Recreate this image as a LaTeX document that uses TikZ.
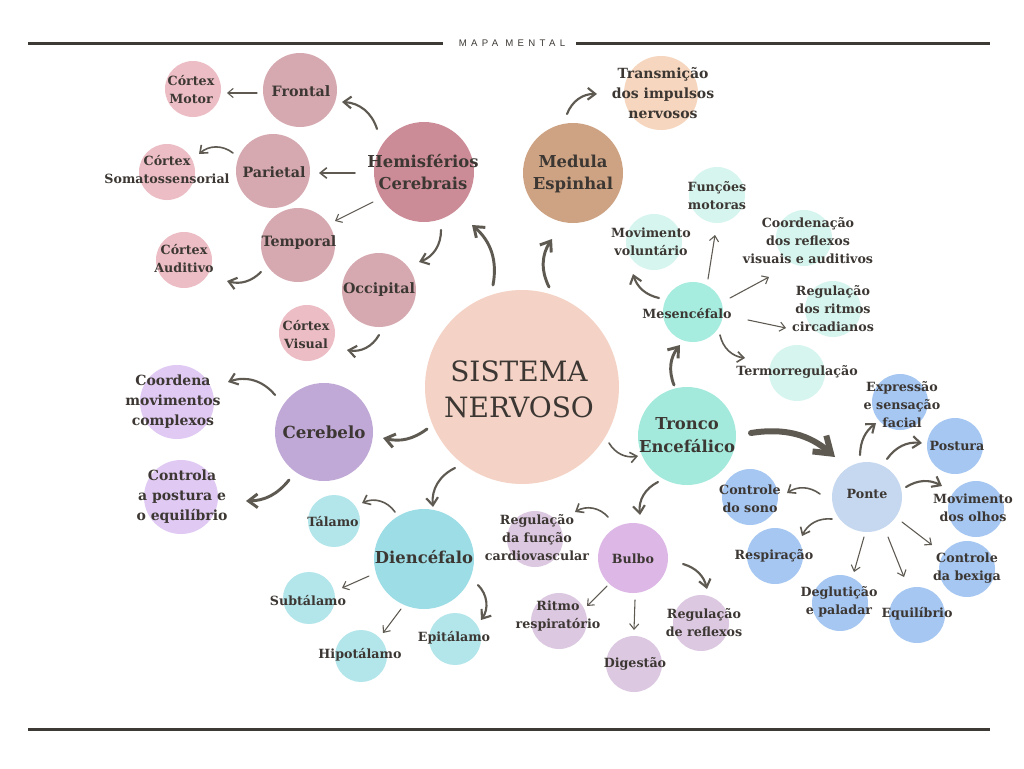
\documentclass[tikz,border=0pt]{standalone}
\usepackage{fontspec}
\setmainfont{DejaVu Serif}
\newfontfamily\capsfont[LetterSpace=45]{Liberation Sans}
\usetikzlibrary{arrows.meta,calc}
\definecolor{lc}{HTML}{3D3935}
\definecolor{ac}{HTML}{5E5A52}
\definecolor{tc}{HTML}{3C3733}
\definecolor{cSN}{HTML}{F4D3C6}
\definecolor{cHem}{HTML}{CC8C97}
\definecolor{cLob}{HTML}{D6A9B0}
\definecolor{cCtx}{HTML}{ECBDC4}
\definecolor{cMed}{HTML}{CDA384}
\definecolor{cTra}{HTML}{F6D6BE}
\definecolor{cCer}{HTML}{C1A9D7}
\definecolor{cCerK}{HTML}{E0CAF3}
\definecolor{cDie}{HTML}{9CDDE6}
\definecolor{cDieK}{HTML}{B3E6EB}
\definecolor{cTro}{HTML}{A4EADC}
\definecolor{cMes}{HTML}{A6EDE0}
\definecolor{cMesK}{HTML}{D7F5EF}
\definecolor{cPon}{HTML}{C5D8F0}
\definecolor{cPonK}{HTML}{A6C7F2}
\definecolor{cBul}{HTML}{DDB7E6}
\definecolor{cBulK}{HTML}{DCC9E1}
\begin{document}
\begin{tikzpicture}[x=0.75pt,y=0.75pt,
  bub/.style={circle,inner sep=0pt,draw=none,minimum size=1.5pt*#1},
  tx/.style={text=tc,align=center,inner sep=0pt},
  ts/.style={tx,font=\bfseries\fontsize{9.5}{13.5}\selectfont},
  tsl/.style={tx,font=\bfseries\fontsize{10.5}{15}\selectfont},
  tm/.style={tx,font=\bfseries\fontsize{10.7}{14}\selectfont},
  tl/.style={tx,font=\bfseries\fontsize{12.3}{17}\selectfont},
  tlb/.style={tx,font=\bfseries\fontsize{12.5}{16}\selectfont},
  tt/.style={tx,font=\fontsize{21}{27}\selectfont},
  ar/.style={draw=ac,line cap=round,line join=round,-{Straight Barb[length=2.5pt 2,width=5pt 2.4]}},
  a1/.style={ar,line width=0.8pt},
  a2/.style={ar,line width=1.2pt},
  a3/.style={ar,line width=1.6pt},
  a4/.style={ar,line width=2.2pt},
  a5/.style={ar,line width=4.5pt},
]
\useasboundingbox (0,0) rectangle (1024,-768);
\fill[white] (0,0) rectangle (1024,-768);
% header and footer
\node[text=lc,inner sep=0pt,font=\capsfont\fontsize{7.2}{8}\selectfont] (title) at (512,-43) {MAPA MENTAL};
\coordinate (hl1) at (28,-43);
\coordinate (hl2) at (443,-43);
\coordinate (hr1) at (576,-43);
\coordinate (hr2) at (990,-43);
\coordinate (f1) at (28,-729.5);
\coordinate (f2) at (990,-729.5);
\draw[lc,line width=2.25pt] (hl1) -- (hl2) (hr1) -- (hr2);
\draw[lc,line width=2.25pt] (f1) -- (f2);
% circles
\node[bub=97,fill=cSN] (sn) at (522,-387) {};
\node[bub=50,fill=cHem] (hem) at (424,-172) {};
\node[bub=37,fill=cLob] (fro) at (300,-90) {};
\node[bub=28,fill=cCtx] (cmo) at (193,-89) {};
\node[bub=37,fill=cLob] (par) at (273,-171) {};
\node[bub=28,fill=cCtx] (cso) at (167,-172) {};
\node[bub=37,fill=cLob] (tem) at (298,-245) {};
\node[bub=28,fill=cCtx] (cau) at (184,-260) {};
\node[bub=37,fill=cLob] (occ) at (379,-290) {};
\node[bub=28,fill=cCtx] (cvi) at (307,-333) {};
\node[bub=49,fill=cCer] (cer) at (324,-432) {};
\node[bub=37,fill=cCerK] (coo) at (177,-402) {};
\node[bub=37,fill=cCerK] (con) at (181,-497) {};
\node[bub=50,fill=cMed] (med) at (573,-173) {};
\node[bub=37,fill=cTra] (tra) at (661,-93) {};
\node[bub=49,fill=cTro] (tro) at (687,-436) {};
\node[bub=30,fill=cMes] (mes) at (693,-312) {};
\node[bub=28,fill=cMesK] (fmo) at (717,-195) {};
\node[bub=28,fill=cMesK] (mvo) at (654,-242) {};
\node[bub=28,fill=cMesK] (cre) at (804,-238) {};
\node[bub=28,fill=cMesK] (rci) at (833,-309) {};
\node[bub=28,fill=cMesK] (ter) at (797,-373) {};
\node[bub=35,fill=cPon] (pon) at (867,-497) {};
\node[bub=28,fill=cPonK] (exp) at (900,-402) {};
\node[bub=28,fill=cPonK] (pos) at (955,-446) {};
\node[bub=28,fill=cPonK] (mol) at (976,-509) {};
\node[bub=28,fill=cPonK] (cbx) at (967,-569) {};
\node[bub=28,fill=cPonK] (equ) at (917,-615) {};
\node[bub=28,fill=cPonK] (deg) at (840,-603) {};
\node[bub=28,fill=cPonK] (res) at (775,-556) {};
\node[bub=28,fill=cPonK] (csn) at (750,-497) {};
\node[bub=35,fill=cBul] (bul) at (633,-558) {};
\node[bub=28,fill=cBulK] (rcv) at (535,-539) {};
\node[bub=28,fill=cBulK] (rre) at (559,-621) {};
\node[bub=28,fill=cBulK] (dig) at (634,-664) {};
\node[bub=28,fill=cBulK] (rrf) at (701,-623) {};
\node[bub=50,fill=cDie] (die) at (424,-559) {};
\node[bub=26,fill=cDieK] (tal) at (334,-521) {};
\node[bub=26,fill=cDieK] (sub) at (309,-598) {};
\node[bub=26,fill=cDieK] (hip) at (361,-656) {};
\node[bub=26,fill=cDieK] (epi) at (455,-639) {};
% texts
\node[tt] (sn-t) at (519,-389) {SISTEMA\\NERVOSO};
\node[tl] (hem-t) at (423,-172) {Hemisférios\\Cerebrais};
\node[tm] (fro-t) at (301,-91) {Frontal};
\node[ts] (cmo-t) at (191,-90) {Córtex\\Motor};
\node[tm] (par-t) at (274,-172) {Parietal};
\node[ts] (cso-t) at (167,-170) {Córtex\\Somatossensorial};
\node[tm] (tem-t) at (299,-243) {Temporal};
\node[ts] (cau-t) at (184,-259) {Córtex\\Auditivo};
\node[tm] (occ-t) at (379,-290) {Occipital};
\node[ts] (cvi-t) at (306,-335) {Córtex\\Visual};
\node[tlb] (cer-t) at (324,-432) {Cerebelo};
\node[tsl] (coo-t) at (173,-402) {Coordena\\movimentos\\complexos};
\node[tsl] (con-t) at (182,-497) {Controla\\a postura e\\o equilíbrio};
\node[tl] (med-t) at (573,-174) {Medula\\Espinhal};
\node[tsl] (tra-t) at (663,-93) {Transmição\\dos impulsos\\nervosos};
\node[tl] (tro-t) at (687,-435) {Tronco\\Encefálico};
\node[ts] (mes-t) at (687,-314) {Mesencéfalo};
\node[ts] (fmo-t) at (717,-196) {Funções\\motoras};
\node[ts] (mvo-t) at (651,-242) {Movimento\\voluntário};
\node[ts] (cre-t) at (808,-241) {Coordenação\\dos reflexos\\visuais e auditivos};
\node[ts] (rci-t) at (833,-309) {Regulação\\dos ritmos\\circadianos};
\node[ts] (ter-t) at (797,-372) {Termorregulação};
\node[ts] (pon-t) at (867,-494) {Ponte};
\node[ts] (exp-t) at (902,-405) {Expressão\\e sensação\\facial};
\node[ts] (pos-t) at (957,-446) {Postura};
\node[ts] (mol-t) at (973,-508) {Movimento\\dos olhos};
\node[ts] (cbx-t) at (967,-568) {Controle\\da bexiga};
\node[ts] (equ-t) at (917,-614) {Equilíbrio};
\node[ts] (deg-t) at (839,-602) {Deglutição\\e paladar};
\node[ts] (res-t) at (774,-556) {Respiração};
\node[ts] (csn-t) at (750,-499) {Controle\\do sono};
\node[ts] (bul-t) at (633,-559) {Bulbo};
\node[ts] (rcv-t) at (537,-538) {Regulação\\da função\\cardiovascular};
\node[ts] (rre-t) at (558,-616) {Ritmo\\respiratório};
\node[ts] (dig-t) at (635,-664) {Digestão};
\node[ts] (rrf-t) at (704,-623) {Regulação\\de reflexos};
\node[tl] (die-t) at (424,-557) {Diencéfalo};
\node[ts] (tal-t) at (333,-522) {Tálamo};
\node[ts] (sub-t) at (308,-601) {Subtálamo};
\node[ts] (hip-t) at (360,-655) {Hipotálamo};
\node[ts] (epi-t) at (454,-638) {Epitálamo};
% connectors
\draw[a3] ($(hem)+(-47,43)$) to[bend right=35] ($(fro)+(42,-12)$);
\draw[a2] ($(hem)+(-69,-1)$) -- ($(par)+(46,-2)$);
\draw[a1] ($(hem)+(-51,-30)$) -- ($(tem)+(37,24)$);
\draw[a3] ($(hem)+(17,-58)$) to[bend left=35] ($(occ)+(40,28)$);
\draw[a4] ($(sn)+(-29,102)$) to[bend right=30] ($(hem)+(48,-53)$);
\draw[a1] ($(fro)+(-43,-3)$) -- ($(cmo)+(34,-4)$);
\draw[a2] ($(par)+(-40,18)$) to[bend right=40] ($(cso)+(32,18)$);
\draw[a3] ($(tem)+(-37,-27)$) to[bend left=30] ($(cau)+(43,-21)$);
\draw[a3] ($(occ)+(0,-45)$) to[bend left=35] ($(cvi)+(40,-17)$);
\draw[a4] ($(sn)+(-95,-42)$) to[bend left=25] ($(cer)+(59,-6)$);
\draw[a3] ($(cer)+(-49,37)$) to[bend right=35] ($(coo)+(51,20)$);
\draw[a4] ($(cer)+(-35,-48)$) to[bend left=25] ($(con)+(65,-4)$);
\draw[a3] ($(sn)+(-67,-81)$) to[bend right=35] ($(die)+(9,52)$);
\draw[a2] ($(die)+(-29,47)$) to[bend right=40] ($(tal)+(28,18)$);
\draw[a1] ($(die)+(-55,-17)$) -- ($(sub)+(33,10)$);
\draw[a1] ($(die)+(-23,-50)$) -- ($(hip)+(22,23)$);
\draw[a3] ($(die)+(54,-26)$) to[bend left=40] ($(epi)+(26,19)$);
\draw[a4] ($(sn)+(27,100)$) to[bend left=30] ($(med)+(-21,-66)$);
\draw[a3] ($(med)+(-6,59)$) to[bend left=35] ($(tra)+(-64,-1)$);
\draw[a2] ($(sn)+(87,-56)$) to[bend right=35] ($(tro)+(-49,-20)$);
\draw[a4] ($(tro)+(-13,51)$) to[bend left=30] ($(mes)+(-13,-33)$);
\draw[a3] ($(mes)+(-34,14)$) to[bend left=30] ($(mvo)+(-21,-32)$);
\draw[a1] ($(mes)+(15,33)$) -- ($(fmo)+(-2,-40)$);
\draw[a1] ($(mes)+(37,14)$) -- ($(cre)+(-35,-39)$);
\draw[a1] ($(mes)+(55,-8)$) -- ($(rci)+(-47,-19)$);
\draw[a2] ($(mes)+(27,-23)$) to[bend right=35] ($(ter)+(-52,15)$);
\draw[a5] ($(tro)+(64,3)$) to[bend left=25] ($(pon)+(-32,40)$);
\draw[a3] ($(tro)+(-29,-46)$) to[bend right=35] ($(bul)+(7,43)$);
\draw[a2] ($(bul)+(-25,41)$) to[bend right=40] ($(rcv)+(40,27)$);
\draw[a1] ($(bul)+(-26,-28)$) -- ($(rre)+(28,15)$);
\draw[a1] ($(bul)+(2,-42)$) -- ($(dig)+(0,34)$);
\draw[a3] ($(bul)+(50,-6)$) to[bend left=30] ($(rrf)+(6,34)$);
\draw[a3] ($(pon)+(-7,42)$) to[bend left=25] ($(exp)+(-24,-21)$);
\draw[a3] ($(pon)+(20,38)$) to[bend left=30] ($(pos)+(-33,3)$);
\draw[a3] ($(pon)+(39,10)$) to[bend left=30] ($(mol)+(-34,23)$);
\draw[a1] ($(pon)+(35,-25)$) -- ($(cbx)+(-35,24)$);
\draw[a1] ($(pon)+(21,-40)$) -- ($(equ)+(-13,38)$);
\draw[a1] ($(pon)+(-3,-40)$) -- ($(deg)+(14,31)$);
\draw[a2] ($(pon)+(-35,-22)$) to[bend right=35] ($(res)+(27,20)$);
\draw[a2] ($(pon)+(-47,3)$) to[bend right=35] ($(csn)+(37,4)$);
\end{tikzpicture}
\end{document}
